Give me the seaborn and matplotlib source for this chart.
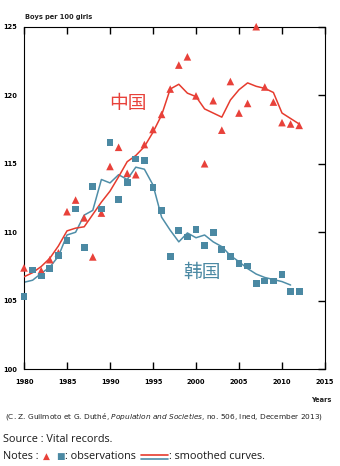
import matplotlib
matplotlib.use("Agg")
import matplotlib.pyplot as plt
import seaborn as sns
import pandas as pd
from matplotlib.lines import Line2D

# ---- data ----
china_obs_years = [1980, 1982, 1983, 1984, 1985, 1986, 1987, 1988, 1989, 1990, 1991, 1992, 1993,
                   1994, 1995, 1996, 1997, 1998, 1999, 2000, 2001, 2002, 2003, 2004, 2005, 2006,
                   2007, 2008, 2009, 2010, 2011, 2012]
china_obs = [107.4, 107.2, 108.0, 108.5, 111.5, 112.35, 111.05, 108.2, 111.4, 114.8, 116.2, 114.3,
             114.2, 116.4, 117.5, 118.6, 120.45, 122.2, 122.8, 119.95, 115.0, 119.6, 117.45, 121.0,
             118.7, 119.4, 125.0, 120.6, 119.5, 118.0, 117.9, 117.8]
china_smooth_years = list(range(1980, 2013))
china_smooth = [106.75, 107.05, 107.5, 108.1, 109.0, 110.1, 110.3, 110.4, 111.3, 112.2, 113.0,
                114.05, 115.15, 115.6, 116.25, 117.3, 118.55, 120.45, 120.8, 120.15, 119.9, 119.0,
                118.7, 118.4, 119.65, 120.4, 120.9, 120.65, 120.5, 120.2, 118.7, 118.3, 117.9]

korea_obs_years = list(range(1980, 2013))
korea_obs = [105.3, 107.25, 106.8, 107.35, 108.3, 109.4, 111.7, 108.9, 113.35, 111.7, 116.55,
             112.4, 113.65, 115.35, 115.25, 113.25, 111.6, 108.25, 110.15, 109.65, 110.2, 109.05,
             110.0, 108.75, 108.25, 107.7, 107.55, 106.25, 106.45, 106.45, 106.9, 105.7, 105.7]
korea_smooth_years = list(range(1980, 2012))
korea_smooth = [106.35, 106.5, 107.0, 107.45, 108.25, 109.8, 110.0, 111.25, 111.6, 113.85,
                113.6, 114.2, 113.85, 114.75, 114.6, 113.45, 111.1, 110.15, 109.3, 109.95, 109.6,
                109.8, 109.3, 108.95, 108.3, 107.85, 107.35, 106.95, 106.7, 106.55, 106.4, 106.15]

x_ticks = [1980, 1985, 1990, 1995, 2000, 2005, 2010, 2015]
y_ticks = [100, 105, 110, 115, 120, 125]

RED = "#e8413a"
RED_LINE = "#e63b2e"
TEAL = "#4b89a3"
TEAL_LINE = "#4f8ea8"

sns.set_style("ticks", {
    "xtick.direction": "in", "ytick.direction": "in",
    "xtick.top": True, "xtick.bottom": True,
    "ytick.left": False, "ytick.right": True,
    "axes.edgecolor": "black", "xtick.color": "black", "ytick.color": "black",
})
plt.rcParams['font.family'] = ['DejaVu Sans', 'Noto Sans CJK SC']
plt.rcParams['mathtext.fontset'] = 'custom'
plt.rcParams['mathtext.it'] = 'DejaVu Sans:italic'
plt.rcParams['mathtext.rm'] = 'DejaVu Sans'

fig = plt.figure(figsize=(3.4, 4.66), dpi=100)
ax = fig.add_axes([24 / 340, 1 - 369.3 / 466, 301 / 340, (369.3 - 26.7) / 466])

df_cs = pd.DataFrame({"year": china_smooth_years, "v": china_smooth})
df_ks = pd.DataFrame({"year": korea_smooth_years, "v": korea_smooth})
df_co = pd.DataFrame({"year": china_obs_years, "v": china_obs})
df_ko = pd.DataFrame({"year": korea_obs_years, "v": korea_obs})

sns.lineplot(data=df_ks, x="year", y="v", ax=ax, color=TEAL_LINE, lw=1.1, zorder=2)
sns.lineplot(data=df_cs, x="year", y="v", ax=ax, color=RED_LINE, lw=1.1, zorder=3)
sns.scatterplot(data=df_co, x="year", y="v", ax=ax, marker="^", s=30, color=RED,
                edgecolor="none", linewidth=0, zorder=4, clip_on=False)
sns.scatterplot(data=df_ko, x="year", y="v", ax=ax, marker="s", s=23, color=TEAL,
                edgecolor="none", linewidth=0, zorder=5, clip_on=False)

ax.set_xlim(1980, 2015)
ax.set_ylim(100, 125)
ax.set_xlabel("")
ax.set_ylabel("")
ax.set_xticks(x_ticks)
ax.set_xticklabels([str(t) for t in x_ticks], fontsize=4.8, fontweight="bold")
ax.set_yticks(y_ticks)
ax.set_yticklabels([str(t) for t in y_ticks], fontsize=4.8, fontweight="bold")
ax.tick_params(axis="x", direction="in", length=5, width=1.0, color="black",
               top=True, bottom=True, pad=7)
ax.tick_params(axis="y", direction="in", length=5, width=1.0, color="black",
               left=False, right=True, labelleft=True, labelright=False, pad=5)

ax.text(1992.1, 119.4, "中国", color=RED, fontsize=13.5, ha="center", va="center",
        family=["Noto Sans CJK SC"])
ax.text(2000.7, 107.1, "韩国", color=TEAL, fontsize=13.5, ha="center", va="center",
        family=["Noto Sans CJK SC"])

fig.text(25 / 340, 1 - 17 / 466, "Boys per 100 girls", fontsize=4.8, ha="left", va="center",
         fontweight="bold", color="#222222")
fig.text(331 / 340, 1 - 400.5 / 466, "Years", fontsize=4.8, ha="right", va="center",
         fontweight="bold", color="#222222")

fig.text(5 / 340, 1 - 416.5 / 466,
         r"(C. Z. Guilmoto et G. Duthé, $\mathit{Population\ and\ Societies}$, "
         r"no. 506, Ined, December 2013)",
         fontsize=5.35, ha="left", va="center", color="#222222")

nfs = 7.8
fig.text(3 / 340, 1 - 439 / 466, "Source : Vital records.", fontsize=nfs, ha="left",
         va="center", family="Open Sans", color="#1a1a1a")

ny = 1 - 456.5 / 466
fig.text(3 / 340, ny, "Notes : ", fontsize=nfs, ha="left", va="center",
         family="Open Sans", color="#1a1a1a")
fig.text(43 / 340, ny, "▲", fontsize=6.5, ha="left", va="center", color=RED,
         family="DejaVu Sans")
fig.text(56 / 340, ny, "■", fontsize=6.5, ha="left", va="center", color=TEAL,
         family="DejaVu Sans")
fig.text(65 / 340, ny, ": observations", fontsize=nfs, ha="left", va="center",
         family="Open Sans", color="#1a1a1a")
fig.add_artist(Line2D([141 / 340, 168 / 340], [1 - 454.5 / 466] * 2, color=RED_LINE, lw=1.2,
                      transform=fig.transFigure))
fig.add_artist(Line2D([141 / 340, 168 / 340], [1 - 458.5 / 466] * 2, color=TEAL_LINE, lw=1.2,
                      transform=fig.transFigure))
fig.text(169 / 340, ny, ": smoothed curves.", fontsize=nfs, ha="left", va="center",
         family="Open Sans", color="#1a1a1a")

fig.savefig("out.png", dpi=100)
